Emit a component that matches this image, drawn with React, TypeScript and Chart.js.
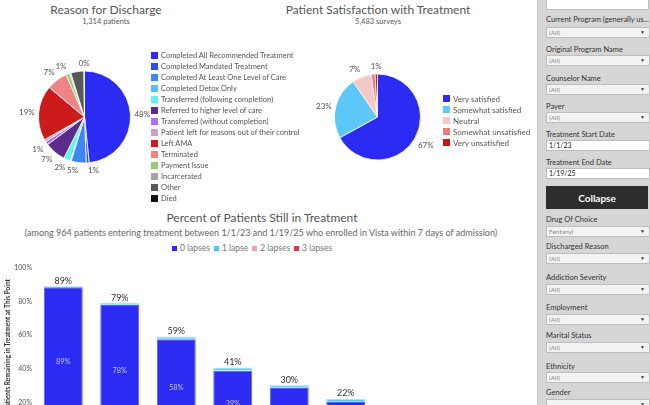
import React, { useEffect, useRef } from "react";
import { Chart, registerables } from "chart.js";

Chart.register(...registerables);

const FONT = "Lato, 'Open Sans', sans-serif";

// ---------- Reason for Discharge ----------
const dischargeReasons = [
  "Completed All Recommended Treatment",
  "Completed Mandated Treatment",
  "Completed At Least One Level of Care",
  "Completed Detox Only",
  "Transferred (following completion)",
  "Referred to higher level of care",
  "Transferred (without completion)",
  "Patient left for reasons out of their control",
  "Left AMA",
  "Terminated",
  "Payment Issue",
  "Incarcerated",
  "Other",
  "Died",
];
const dischargeShares = [48.4, 1.0, 5.3, 0.3, 2.4, 7.4, 1.2, 0.8, 19.3, 7.4, 1.3, 0.4, 4.6, 0.2];
const dischargeColors = [
  "#2b2bf3", "#2f4ff0", "#3f86f3", "#52c3f7", "#5ef3ee", "#5c2b8e", "#b46cf2",
  "#c9a1c9", "#cc1b1b", "#f08383", "#8ecf7a", "#a3a3a3", "#595959", "#111111",
];
const dischargeLabeled = [true, true, true, false, true, true, true, false, true, true, true, false, false, true];

// ---------- Patient Satisfaction ----------
const satisfactionLevels = ["Very satisfied", "Somewhat satisfied", "Neutral", "Somewhat unsatisfied", "Very unsatisfied"];
const satisfactionShares = [67.0, 23.4, 7.2, 1.5, 0.9];
const satisfactionColors = ["#2b2bf3", "#5cc7f8", "#f5c8c8", "#ee7b7b", "#cc1414"];
const satisfactionLabeled = [true, true, true, false, true];

// ---------- Percent still in treatment ----------
const timePoints = ["30 days", "60 days", "90 days", "120 days", "150 days", "180 days"];
const lapseNames = ["0 lapses", "1 lapse", "2 lapses", "3 lapses"];
const lapses0 = [88.6, 78.0, 57.6, 38.8, 28.6, 20.3];
const lapses1 = [0.5, 1.1, 1.7, 2.0, 1.6, 1.7];
const lapses2 = [0, 0, 0, 0, 0, 0];
const lapses3 = [0, 0, 0, 0, 0, 0];
const lapseColors = ["#2b2bf3", "#4fc6f8", "#f4a3a3", "#d23b3e"];
const lapseBorders = ["#5a5af8", "#9fe3ff", "#f8c0c0", "#e06a6a"];
const yTickValues = [0, 20, 40, 60, 80, 100];

// ---------- Filters ----------
const filterLabels = [
  "Current Program (generally us...",
  "Original Program Name",
  "Counselor Name",
  "Payer",
  "Treatment Start Date",
  "Treatment End Date",
  "Drug Of Choice",
  "Discharged Reason",
  "Addiction Severity",
  "Employment",
  "Marital Status",
  "Ethnicity",
  "Gender",
];
const filterValues = ["(All)", "(All)", "(All)", "(All)", "1/1/23", "1/19/25", "Fentanyl", "(All)", "(All)", "(All)", "(All)", "(All)", ""];
const filterIsDate = [false, false, false, false, true, true, false, false, false, false, false, false, false];

function pieLabelPlugin(labeled: boolean[]) {
  return {
    id: "pieLabels",
    afterDatasetsDraw(chart: any) {
      const ctx = chart.ctx;
      const meta = chart.getDatasetMeta(0);
      const data = chart.data.datasets[0].data as number[];
      const total = data.reduce((a, b) => a + b, 0);
      ctx.save();
      ctx.font = `8px ${FONT}`;
      ctx.fillStyle = "#555";
      meta.data.forEach((arc: any, i: number) => {
        if (!labeled[i]) return;
        const p = arc.getProps(["x", "y", "startAngle", "endAngle", "outerRadius"], true);
        const mid = (p.startAngle + p.endAngle) / 2;
        const c = Math.cos(mid);
        const s = Math.sin(mid);
        const R = p.outerRadius + 4;
        ctx.textAlign = c > 0.05 ? "left" : c < -0.05 ? "right" : "center";
        ctx.textBaseline = s > 0.3 ? "top" : s < -0.3 ? "bottom" : "middle";
        ctx.fillText(Math.round((data[i] / total) * 100) + "%", p.x + R * c, p.y + R * s);
      });
      ctx.restore();
    },
  };
}

const barLabelPlugin = {
  id: "barLabels",
  afterDatasetsDraw(chart: any) {
    const ctx = chart.ctx;
    const meta0 = chart.getDatasetMeta(0);
    const ds = chart.data.datasets;
    ctx.save();
    ctx.textAlign = "center";
    meta0.data.forEach((bar: any, i: number) => {
      const p = bar.getProps(["x", "y", "base"], true);
      ctx.font = `7.5px ${FONT}`;
      ctx.fillStyle = "#c4c4ff";
      ctx.textBaseline = "middle";
      ctx.fillText(Math.round(ds[0].data[i]) + "%", p.x, (p.y + p.base) / 2);
      const total = ds.reduce((a: number, d: any) => a + (d.data[i] || 0), 0);
      const yTop = chart.scales.y.getPixelForValue(total);
      ctx.font = `9px ${FONT}`;
      ctx.fillStyle = "#333";
      ctx.textBaseline = "bottom";
      ctx.fillText(Math.round(total) + "%", p.x, yTop - 1);
    });
    ctx.restore();
  },
};

function PieCanvas(props: {
  labels: string[];
  values: number[];
  colors: string[];
  labeled: boolean[];
  radius: number;
  width: number;
  height: number;
}) {
  const ref = useRef<HTMLCanvasElement>(null);
  useEffect(() => {
    const chart = new Chart(ref.current as HTMLCanvasElement, {
      type: "pie",
      data: {
        labels: props.labels,
        datasets: [
          {
            data: props.values,
            backgroundColor: props.colors,
            borderColor: "#ffffff",
            borderWidth: 0.8,
          },
        ],
      },
      options: {
        responsive: false,
        animation: false,
        radius: props.radius,
        layout: { padding: 0 },
        plugins: { legend: { display: false }, tooltip: { enabled: false } },
      } as any,
      plugins: [pieLabelPlugin(props.labeled)],
    });
    return () => chart.destroy();
  }, []);
  return <canvas ref={ref} width={props.width} height={props.height} style={{ width: props.width, height: props.height, display: "block" }} />;
}

function BarCanvas() {
  const ref = useRef<HTMLCanvasElement>(null);
  useEffect(() => {
    const series = [lapses0, lapses1, lapses2, lapses3];
    const chart = new Chart(ref.current as HTMLCanvasElement, {
      type: "bar",
      data: {
        labels: timePoints,
        datasets: series.map((d, k) => ({
          label: lapseNames[k],
          data: d,
          backgroundColor: lapseColors[k],
          borderColor: lapseBorders[k],
          borderWidth: 1,
          borderSkipped: false,
          categoryPercentage: 1,
          barPercentage: 0.69,
        })),
      },
      options: {
        responsive: false,
        animation: false,
        layout: { padding: { top: 13, right: 6, bottom: 10, left: 0 } },
        plugins: { legend: { display: false }, tooltip: { enabled: false } },
        scales: {
          x: { stacked: true, display: false },
          y: {
            stacked: true,
            min: 0,
            max: 100,
            afterBuildTicks: (scale: any) => {
              scale.ticks = yTickValues.map((v) => ({ value: v }));
            },
            afterFit: (scale: any) => {
              scale.width = 35;
            },
            grid: { display: false, drawTicks: false },
            border: { display: false },
            ticks: {
              padding: 3,
              color: "#555",
              font: { family: FONT, size: 7 },
              callback: (v: any) => v + "%",
            },
            title: {
              display: true,
              text: "% of Patients Remaining in Treatment at This Point",
              color: "#333",
              font: { family: FONT, size: 6.5, weight: "bold" },
              padding: { top: 4, bottom: 0 },
            },
          },
        },
      } as any,
      plugins: [barLabelPlugin],
    });
    return () => chart.destroy();
  }, []);
  return <canvas ref={ref} width={380} height={191} style={{ width: 380, height: 191, display: "block" }} />;
}

function Legend(props: { labels: string[]; colors: string[]; left: number; top: number; step: number; size: number }) {
  return (
    <div style={{ position: "absolute", left: props.left, top: props.top }}>
      {props.labels.map((l, i) => (
        <div key={l} style={{ position: "absolute", left: 0, top: i * props.step, height: props.step, whiteSpace: "nowrap", display: "flex", alignItems: "center" }}>
          <span style={{ display: "inline-block", width: 7, height: 7, background: props.colors[i], marginRight: 3 }} />
          <span style={{ fontSize: props.size, color: "#555", lineHeight: 1 }}>{l}</span>
        </div>
      ))}
    </div>
  );
}

function Sidebar() {
  const labelTops = [15, 45, 74, 102, 130, 158, 215, 242, 273, 303, 331, 362, 388];
  const boxTops = [27, 55, 84, 112, 140, 168, 226, 253, 284, 314, 342, 372, 399];
  return (
    <div style={{ position: "absolute", left: 537, top: 0, width: 113, height: 405, background: "#d6d6d6", borderLeft: "1px solid #c4c4c4" }}>
      <div style={{ position: "absolute", left: 8, top: -2, width: 101, height: 10, background: "#fff", border: "1px solid #bdbdbd" }} />
      {filterLabels.map((l, i) => (
        <React.Fragment key={l}>
          <div style={{ position: "absolute", left: 8, top: labelTops[i], fontSize: 7.5, color: "#333", whiteSpace: "nowrap", lineHeight: "10px" }}>{l}</div>
          <div
            style={{
              position: "absolute",
              left: 8,
              top: boxTops[i],
              width: 100,
              height: 9,
              background: filterIsDate[i] ? "#ffffff" : "#f3f3f3",
              border: "1px solid #bdbdbd",
              fontSize: filterIsDate[i] ? 7 : 6.5,
              color: filterIsDate[i] ? "#222" : "#8a8a8a",
              lineHeight: "9px",
              paddingLeft: 2,
              boxSizing: "content-box",
            }}
          >
            {filterValues[i]}
            {!filterIsDate[i] && (
              <span style={{ position: "absolute", right: 4, top: 0, fontSize: 5, color: "#333" }}>▼</span>
            )}
          </div>
        </React.Fragment>
      ))}
      <div
        style={{
          position: "absolute",
          left: 8,
          top: 186,
          width: 102,
          height: 23,
          background: "#2d2d2d",
          color: "#fff",
          fontWeight: "bold",
          fontSize: 10,
          display: "flex",
          alignItems: "center",
          justifyContent: "center",
        }}
      >
        Collapse
      </div>
    </div>
  );
}

export default function App() {
  return (
    <div style={{ position: "fixed", left: 0, top: 0, width: 650, height: 405, overflow: "hidden", background: "#fff", fontFamily: FONT }}>
      {/* Reason for Discharge */}
      <div style={{ position: "absolute", left: 0, top: 2, width: 212, textAlign: "center", fontSize: 12, color: "#555", lineHeight: "15px", whiteSpace: "nowrap" }}>Reason for Discharge</div>
      <div style={{ position: "absolute", left: 0, top: 17, width: 212, textAlign: "center", fontSize: 7.5, color: "#555", lineHeight: "10px" }}>1,314 patients</div>
      <div style={{ position: "absolute", left: 0, top: 40 }}>
        <PieCanvas labels={dischargeReasons} values={dischargeShares} colors={dischargeColors} labeled={dischargeLabeled} radius={46} width={169} height={154} />
      </div>
      <Legend labels={dischargeReasons} colors={dischargeColors} left={151} top={50} step={11} size={7.5} />

      {/* Patient Satisfaction */}
      <div style={{ position: "absolute", left: 228, top: 2, width: 300, textAlign: "center", fontSize: 12, color: "#555", lineHeight: "15px", whiteSpace: "nowrap" }}>Patient Satisfaction with Treatment</div>
      <div style={{ position: "absolute", left: 228, top: 17, width: 300, textAlign: "center", fontSize: 7.5, color: "#555", lineHeight: "10px" }}>5,483 surveys</div>
      <div style={{ position: "absolute", left: 300, top: 40 }}>
        <PieCanvas labels={satisfactionLevels} values={satisfactionShares} colors={satisfactionColors} labeled={satisfactionLabeled} radius={43} width={155} height={154} />
      </div>
      <Legend labels={satisfactionLevels} colors={satisfactionColors} left={443} top={93} step={11} size={8} />

      {/* Percent still in treatment */}
      <div style={{ position: "absolute", left: 0, top: 210, width: 524, textAlign: "center", fontSize: 12, color: "#555", lineHeight: "15px", whiteSpace: "nowrap" }}>Percent of Patients Still in Treatment</div>
      <div style={{ position: "absolute", left: 0, top: 227, width: 522, textAlign: "center", fontSize: 9, color: "#666", lineHeight: "11px", whiteSpace: "nowrap" }}>
        (among 964 patients entering treatment between 1/1/23 and 1/19/25 who enrolled in Vista within 7 days of admission)
      </div>
      <div style={{ position: "absolute", left: 0, top: 243, width: 508, display: "flex", justifyContent: "center", fontSize: 8.5, color: "#777", lineHeight: "11px" }}>
        {lapseNames.map((n, i) => (
          <span key={n} style={{ display: "inline-flex", alignItems: "center", marginRight: 4 }}>
            <span style={{ display: "inline-block", width: 5, height: 5, background: lapseColors[i], marginRight: 3 }} />
            {n}
          </span>
        ))}
      </div>
      <div style={{ position: "absolute", left: 0, top: 255 }}>
        <BarCanvas />
      </div>

      <Sidebar />
    </div>
  );
}
